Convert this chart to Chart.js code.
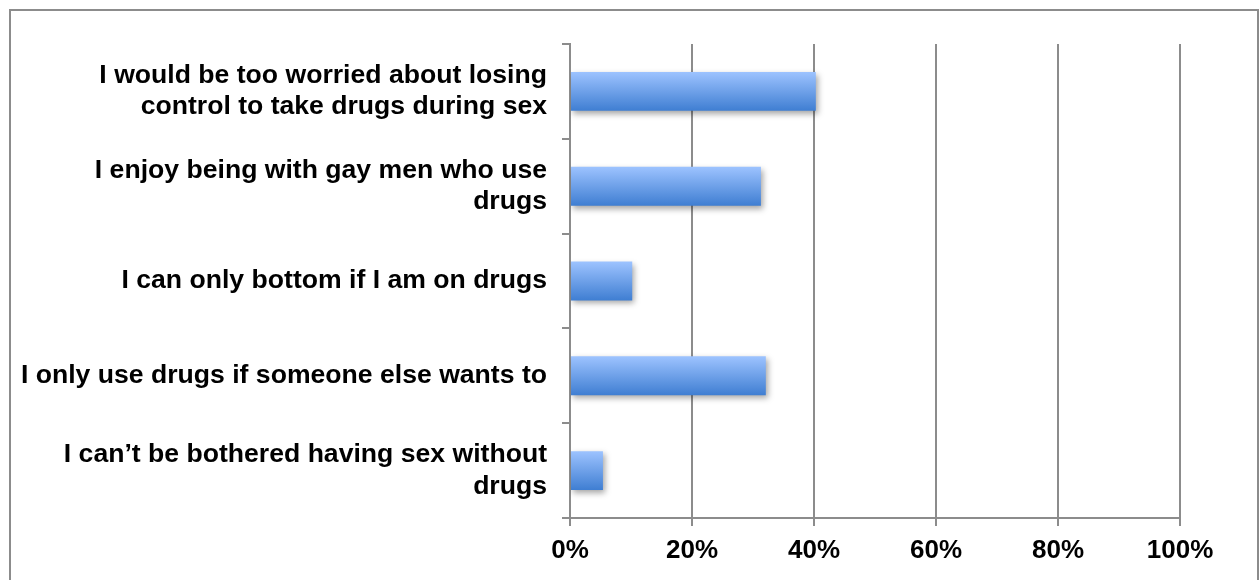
<!DOCTYPE html>
<html lang="en">
<head>
    <meta charset="UTF-8">
    <title>Drug use attitudes</title>
    <script src="https://cdn.jsdelivr.net/npm/chart.js"></script>
    <style>
        html, body { margin: 0; padding: 0; background: #fff; overflow: hidden; }
        #frame { position: absolute; left: 9px; top: 9px; width: 1246px; height: 600px; border: 2px solid #8c8c8c; }
        #wrap { position: absolute; left: 0; top: 0; width: 1259px; height: 580px; }
    </style>
</head>
<body>
    <div id="frame"></div>
    <div id="wrap"><canvas id="barChart"></canvas></div>

    <script>
        var categories = [
            ['I would be too worried about losing', 'control to take drugs during sex'],
            ['I enjoy being with gay men who use', 'drugs'],
            'I can only bottom if I am on drugs',
            'I only use drugs if someone else wants to',
            ['I can\u2019t be bothered having sex without', 'drugs']
        ];
        var percentages = [40.3, 31.3, 10.2, 32.1, 5.4];
        var xTicks = [0, 20, 40, 60, 80, 100];

        var labelFont = '"Liberation Sans", Arial, sans-serif';

        // soft drop shadow under the bars
        var shadowPlugin = {
            id: 'barShadow',
            beforeDatasetsDraw: function(chart) {
                var c = chart.ctx;
                c.save();
                c.shadowColor = 'rgba(0,0,0,0.35)';
                c.shadowBlur = 6;
                c.shadowOffsetX = 2;
                c.shadowOffsetY = 3;
            },
            afterDatasetsDraw: function(chart) {
                chart.ctx.restore();
            }
        };

        function barGradient(context) {
            var chart = context.chart;
            var yScale = chart.scales.y;
            if (!yScale || !chart.chartArea) return '#6b9ee8';
            var band = (chart.chartArea.bottom - chart.chartArea.top) / categories.length;
            var mid = yScale.getPixelForValue(context.dataIndex);
            var h = band * 0.41;
            var g = chart.ctx.createLinearGradient(0, mid - h / 2, 0, mid + h / 2);
            g.addColorStop(0, '#9dc3ff');
            g.addColorStop(1, '#3f7ed2');
            return g;
        }

        var ctx = document.getElementById('barChart').getContext('2d');
        var chart = new Chart(ctx, {
            type: 'bar',
            data: {
                labels: categories,
                datasets: [{
                    label: 'Percentage',
                    data: percentages,
                    backgroundColor: barGradient,
                    borderWidth: 0,
                    categoryPercentage: 0.41,
                    barPercentage: 1.0
                }]
            },
            plugins: [shadowPlugin],
            options: {
                indexAxis: 'y',
                responsive: true,
                maintainAspectRatio: false,
                animation: false,
                layout: { padding: { top: 44, right: 79, bottom: 0, left: 10 } },
                plugins: {
                    legend: { display: false },
                    tooltip: { enabled: false }
                },
                scales: {
                    x: {
                        min: 0,
                        max: 100,
                        afterBuildTicks: function(scale) {
                            scale.ticks = xTicks.map(function(v) { return { value: v }; });
                        },
                        afterFit: function(scale) { scale.height = 62; },
                        grid: { color: '#8c8c8c', lineWidth: 2, tickLength: 8, drawTicks: true },
                        border: { color: '#8c8c8c', width: 2 },
                        ticks: {
                            color: '#000',
                            padding: 9,
                            maxRotation: 0,
                            autoSkip: false,
                            font: { family: labelFont, size: 26, weight: 'bold' },
                            callback: function(v) { return v + '%'; }
                        }
                    },
                    y: {
                        afterFit: function(scale) {
                            scale.width = 560;
                            scale.paddingTop = 0;
                            scale.paddingBottom = 0;
                        },
                        grid: { drawOnChartArea: false, color: '#8c8c8c', lineWidth: 2, tickLength: 8, offset: true },
                        border: { color: '#8c8c8c', width: 2 },
                        ticks: {
                            color: '#000',
                            padding: 15,
                            autoSkip: false,
                            font: { family: labelFont, size: 26.6, weight: 'bold', lineHeight: 1.17 }
                        }
                    }
                }
            }
        });
    </script>
</body>
</html>
